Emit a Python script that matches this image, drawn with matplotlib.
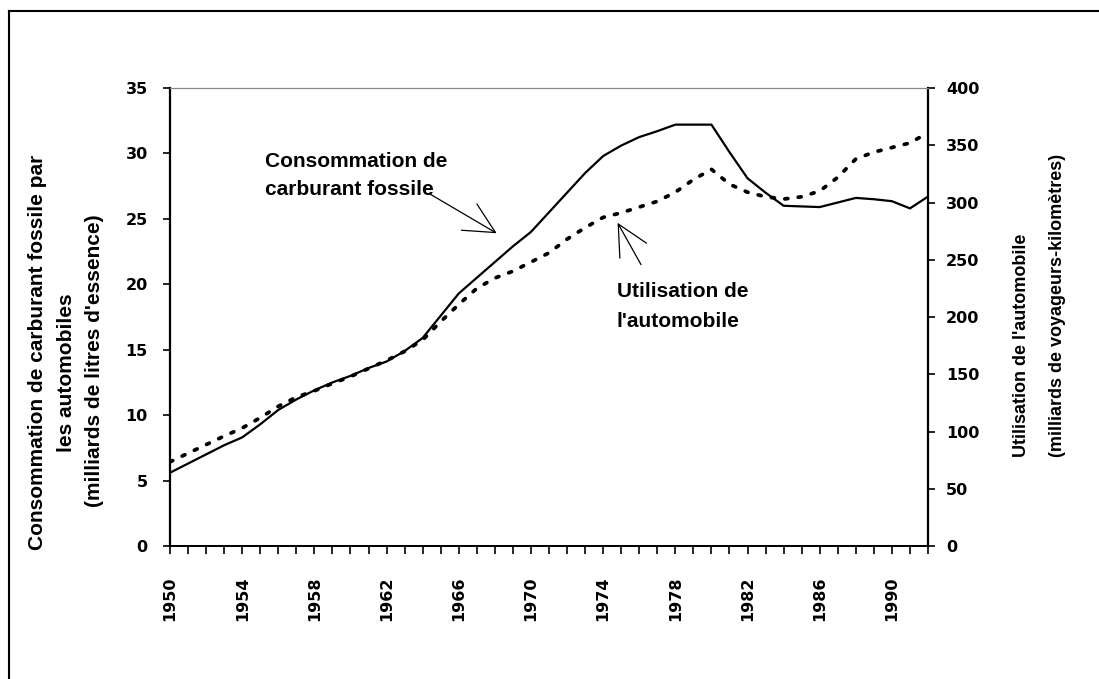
import matplotlib
matplotlib.use('Agg')
import matplotlib.pyplot as plt
from matplotlib.lines import Line2D

W, H = 1099, 679

years = list(range(1950, 1993))
# consommation de carburant fossile (milliards de litres), axe gauche
fuel = [5.6, 6.3, 7.0, 7.7, 8.3, 9.3, 10.4, 11.2, 11.9, 12.5, 13.0, 13.6,
        14.1, 14.9, 15.9, 17.6, 19.3, 20.5, 21.7, 22.9, 24.0, 25.5, 27.0,
        28.5, 29.8, 30.6, 31.25, 31.7, 32.2, 32.2, 32.2, 30.1, 28.1, 27.0,
        26.0, 25.95, 25.9, 26.25, 26.6, 26.5, 26.35, 25.8, 26.7]
# utilisation de l'automobile (milliards de voyageurs-km), axe droit
car_use = [73.5, 81, 88.5, 96, 103, 112, 122, 130, 135.5, 142, 148, 155,
           162, 170, 180, 196, 211, 225, 234, 240, 248, 256, 268, 278, 287,
           291, 296, 301, 309, 320, 329, 316, 309, 305, 303, 305, 310, 322,
           338, 344, 348, 352, 361]

left_ticks = [0, 5, 10, 15, 20, 25, 30, 35]
right_ticks = [0, 50, 100, 150, 200, 250, 300, 350, 400]
label_years = [1950, 1954, 1958, 1962, 1966, 1970, 1974, 1978, 1982, 1986, 1990]

txt_font = 'Liberation Sans'
tick_font = {'family': 'DejaVu Sans', 'weight': 'bold', 'size': 11.5}


def fx(px):
    return px / W


def fy(py):
    return 1 - py / H


fig = plt.figure(figsize=(W / 100, H / 100), dpi=100, facecolor='white')
ax = fig.add_axes([fx(170), fy(546), (928 - 170) / W, (546 - 88) / H])
ax2 = ax.twinx()

ax.plot(years, fuel, color='black', lw=1.6, solid_joinstyle='miter')
ax2.plot(years, car_use, color='black', lw=2.7, linestyle=(0, (0.8, 2.8)),
         dash_capstyle='round')

ax.set_xlim(1950, 1992)
ax.set_ylim(0, 35)
ax2.set_ylim(0, 400)

ax.set_xticks(years)
ax.set_xticklabels([str(y) if y in label_years else '' for y in years],
                   rotation=90, fontdict=tick_font)
ax.tick_params(axis='x', direction='out', length=6, width=1.2, pad=16)
ax.set_yticks(left_ticks)
ax.set_yticklabels([str(v) for v in left_ticks], fontdict=tick_font)
ax.tick_params(axis='y', direction='out', length=5, width=1.2, pad=11)
ax2.set_yticks(right_ticks)
ax2.set_yticklabels([str(v) for v in right_ticks], fontdict=tick_font)
ax2.tick_params(axis='y', direction='out', length=5, width=1.2, pad=8)

for a in (ax, ax2):
    a.spines['top'].set_color('#888888')
    a.spines['top'].set_linewidth(0.8)
    a.spines['bottom'].set_linewidth(1.3)
ax.spines['left'].set_linewidth(1.6)
ax.spines['right'].set_visible(False)
ax2.spines['left'].set_visible(False)
ax2.spines['right'].set_linewidth(1.6)

# annotations
fig.text(fx(265), fy(167), 'Consommation de', family=txt_font,
         weight='bold', size=15, va='baseline')
fig.text(fx(265), fy(195), 'carburant fossile', family=txt_font,
         weight='bold', size=15, va='baseline')
fig.text(fx(617), fy(297), 'Utilisation de', family=txt_font,
         weight='bold', size=15, va='baseline')
fig.text(fx(617), fy(327), "l'automobile", family=txt_font,
         weight='bold', size=15, va='baseline')

arrow = dict(arrowstyle='->,head_length=1.1,head_width=0.55',
             color='black', lw=0.9, mutation_scale=20, shrinkA=0, shrinkB=0)
ax.annotate('', xy=(1968.1, 23.9), xytext=(1964.4, 26.9), arrowprops=arrow)
ax.annotate('', xy=(1974.8, 24.7), xytext=(1976.1, 21.5), arrowprops=arrow)

# titres des axes
fig.text(fx(38), fy(352), 'Consommation de carburant fossile par',
         family=txt_font, weight='bold', size=15, rotation=90,
         ha='center', va='center')
fig.text(fx(67), fy(373), 'les automobiles', family=txt_font,
         weight='bold', size=15, rotation=90, ha='center', va='center')
fig.text(fx(95), fy(361), "(milliards de litres d'essence)",
         family=txt_font, weight='bold', size=15, rotation=90,
         ha='center', va='center')
fig.text(fx(1021), fy(457), "Utilisation de l'automobile", family=txt_font,
         weight='bold', size=13, rotation=90, ha='center', va='bottom')
fig.text(fx(1057), fy(457), '(milliards de voyageurs-kilomètres)',
         family=txt_font, weight='bold', size=13, rotation=90,
         ha='center', va='bottom')

# cadre extérieur
fig.add_artist(Line2D([fx(9), fx(9)], [fy(11), 0], color='black', lw=1.5))
fig.add_artist(Line2D([fx(9), 1], [fy(11), fy(11)], color='black', lw=1.5))

fig.savefig('out.png', dpi=100, facecolor='white')
